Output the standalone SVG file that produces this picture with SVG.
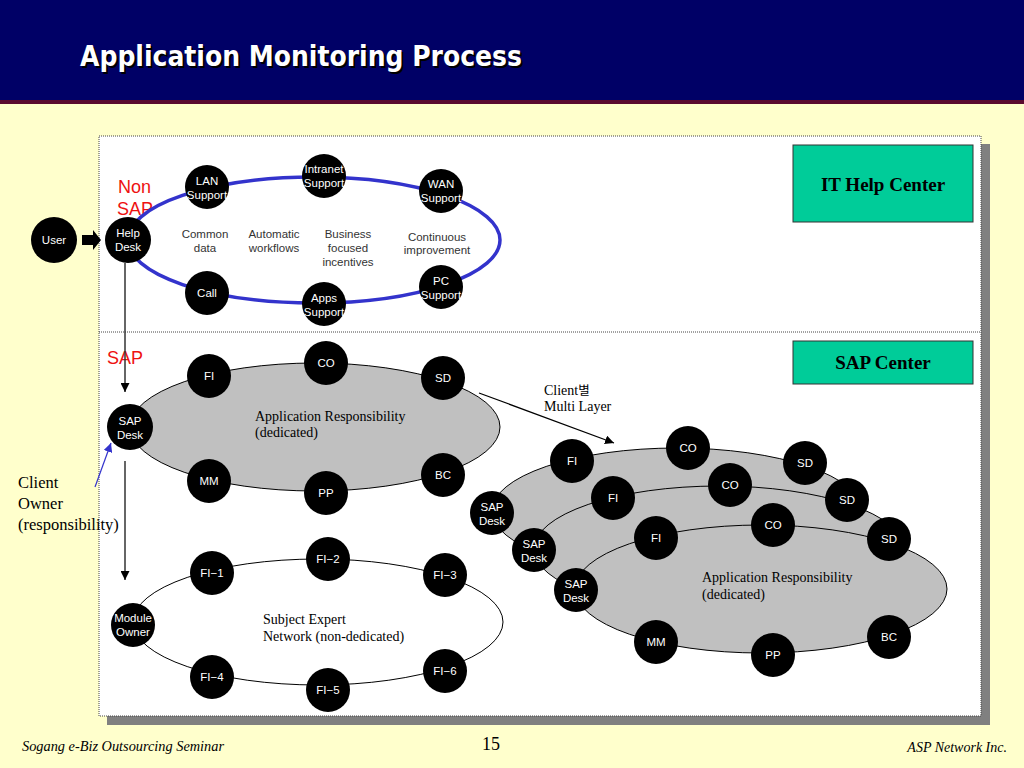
<svg xmlns="http://www.w3.org/2000/svg" width="1024" height="768" viewBox="0 0 1024 768">
<defs>
<style>
.n{fill:#000}
.nt{font-family:"Liberation Sans",Arial,sans-serif;font-size:11.5px;fill:#fff;text-anchor:middle}
.ct{font-family:"Liberation Sans",Arial,sans-serif;font-size:11.5px;fill:#333;text-anchor:middle}
.sr{font-family:"Liberation Serif","Times New Roman",serif;font-size:14px;fill:#000}
.big{font-size:16.5px}
.red{font-family:"Liberation Sans",Arial,sans-serif;font-size:18px;fill:#ee1111}
.box{fill:#00CC99;stroke:#333;stroke-width:1}
.bt{font-family:"Liberation Serif","Times New Roman",serif;font-size:19px;font-weight:bold;fill:#000;text-anchor:middle}
.gray{fill:#C0C0C0;stroke:#000;stroke-width:1}
.ft{font-family:"Liberation Serif","Times New Roman",serif;font-style:italic;font-size:14px;fill:#000}
.ttl{font-family:"DejaVu Sans",Verdana,sans-serif;font-weight:bold;font-size:28px}
</style>
<marker id="ah" viewBox="0 0 10 10" refX="10" refY="5" markerWidth="9" markerHeight="9" markerUnits="userSpaceOnUse" orient="auto"><path d="M0,0 L10,5 L0,10 z" fill="#000"/></marker>
<marker id="ahb" viewBox="0 0 10 10" refX="10" refY="5" markerWidth="9" markerHeight="9" markerUnits="userSpaceOnUse" orient="auto"><path d="M0,0 L10,5 L0,10 z" fill="#3333CC"/></marker>
</defs>

<!-- background -->
<rect x="0" y="0" width="1024" height="768" fill="#FFFFCC"/>
<rect x="0" y="0" width="1024" height="100" fill="#000066"/>
<rect x="0" y="100" width="1024" height="4" fill="#5A0A2E"/>
<text class="ttl" x="82" y="68" fill="#000" textLength="442" lengthAdjust="spacingAndGlyphs">Application Monitoring Process</text>
<text class="ttl" x="80" y="66" fill="#fff" textLength="442" lengthAdjust="spacingAndGlyphs">Application Monitoring Process</text>

<!-- panel -->
<rect x="107" y="144" width="883" height="581" fill="#808080"/>
<rect x="99" y="136" width="882" height="580" fill="#fff" stroke="#444" stroke-width="1" stroke-dasharray="1,1"/>
<line x1="99" y1="332" x2="981" y2="332" stroke="#444" stroke-width="1" stroke-dasharray="1,1"/>

<g id="it-help-center"><rect class="box" x="793" y="145" width="180" height="77"/><text class="bt" x="883" y="191">IT Help Center</text></g>
<g id="sap-center"><rect class="box" x="793" y="341" width="180" height="43"/><text class="bt" x="883" y="369">SAP Center</text></g>

<!-- section labels -->
<text class="red" x="118" y="193">Non</text>
<text class="red" x="117" y="215">SAP</text>
<text class="red" x="107" y="364">SAP</text>

<!-- ellipses -->
<g id="rings">
<ellipse cx="314" cy="240" rx="186" ry="63" fill="none" stroke="#3333CC" stroke-width="3.5"/>
<ellipse class="gray" cx="315" cy="427" rx="185" ry="64"/>
<ellipse cx="318" cy="622" rx="185" ry="63" fill="#fff" stroke="#000" stroke-width="1"/>
</g>

<!-- connectors -->
<g id="connectors">
<path d="M82,235 H93 V230 L101,240 L93,250 V245 H82 z" fill="#000"/>
<line x1="125" y1="263" x2="125" y2="392" stroke="#333" stroke-width="1.5" marker-end="url(#ah)"/>
<line x1="125" y1="461" x2="125" y2="580" stroke="#333" stroke-width="1.5" marker-end="url(#ah)"/>
<line x1="95" y1="487" x2="111" y2="443" stroke="#3333CC" stroke-width="1.2" marker-end="url(#ahb)"/>
<line x1="479" y1="393" x2="614" y2="443" stroke="#000" stroke-width="1.2" marker-end="url(#ah)"/>
</g>

<!-- centre labels upper ring -->
<text class="ct" x="205" y="238">Common</text><text class="ct" x="205" y="252">data</text>
<text class="ct" x="274" y="238">Automatic</text><text class="ct" x="274" y="252">workflows</text>
<text class="ct" x="348" y="238">Business</text><text class="ct" x="348" y="252">focused</text><text class="ct" x="348" y="266">incentives</text>
<text class="ct" x="437" y="241">Continuous</text><text class="ct" x="437" y="254">improvement</text>

<!-- upper nodes -->
<g id="user"><circle class="n" cx="54" cy="240" r="23"/><text class="nt" x="54" y="244">User</text></g>
<g id="help-desk"><circle class="n" cx="128" cy="240" r="23"/><text class="nt" x="128" y="237">Help</text><text class="nt" x="128" y="251">Desk</text></g>
<g id="lan"><circle class="n" cx="207" cy="187" r="22"/><text class="nt" x="207" y="185">LAN</text><text class="nt" x="207" y="199">Support</text></g>
<g id="intranet"><circle class="n" cx="324" cy="176" r="22"/><text class="nt" x="324" y="173">Intranet</text><text class="nt" x="324" y="187">Support</text></g>
<g id="wan"><circle class="n" cx="441" cy="191" r="22"/><text class="nt" x="441" y="188">WAN</text><text class="nt" x="441" y="202">Support</text></g>
<g id="call"><circle class="n" cx="207" cy="293" r="22"/><text class="nt" x="207" y="297">Call</text></g>
<g id="apps"><circle class="n" cx="324" cy="304" r="22"/><text class="nt" x="324" y="302">Apps</text><text class="nt" x="324" y="316">Support</text></g>
<g id="pc"><circle class="n" cx="441" cy="287" r="22"/><text class="nt" x="441" y="285">PC</text><text class="nt" x="441" y="299">Support</text></g>

<!-- SAP ring -->
<text class="sr" x="255" y="421">Application Responsibility</text>
<text class="sr" x="255" y="437">(dedicated)</text>
<g id="sap-desk"><circle class="n" cx="130" cy="427" r="23"/><text class="nt" x="130" y="425">SAP</text><text class="nt" x="130" y="439">Desk</text></g>
<g id="fi"><circle class="n" cx="209" cy="376" r="22"/><text class="nt" x="209" y="380">FI</text></g>
<g id="co"><circle class="n" cx="326" cy="363" r="22"/><text class="nt" x="326" y="367">CO</text></g>
<g id="sd"><circle class="n" cx="443" cy="378" r="22"/><text class="nt" x="443" y="382">SD</text></g>
<g id="mm"><circle class="n" cx="209" cy="481" r="22"/><text class="nt" x="209" y="485">MM</text></g>
<g id="pp"><circle class="n" cx="326" cy="493" r="22"/><text class="nt" x="326" y="497">PP</text></g>
<g id="bc"><circle class="n" cx="443" cy="475" r="22"/><text class="nt" x="443" y="479">BC</text></g>

<text class="sr big" x="18" y="488">Client</text>
<text class="sr big" x="18" y="509">Owner</text>
<text class="sr big" x="18" y="530">(responsibility)</text>

<!-- subject expert ring -->
<text class="sr" x="263" y="624">Subject Expert</text>
<text class="sr" x="263" y="641">Network (non-dedicated)</text>
<g id="module-owner"><circle class="n" cx="133" cy="625" r="22"/><text class="nt" x="133" y="622">Module</text><text class="nt" x="133" y="636">Owner</text></g>
<g id="fi-1"><circle class="n" cx="212" cy="573" r="22"/><text class="nt" x="212" y="577">FI−1</text></g>
<g id="fi-2"><circle class="n" cx="328" cy="559" r="22"/><text class="nt" x="328" y="563">FI−2</text></g>
<g id="fi-3"><circle class="n" cx="445" cy="575" r="22"/><text class="nt" x="445" y="579">FI−3</text></g>
<g id="fi-4"><circle class="n" cx="212" cy="677" r="22"/><text class="nt" x="212" y="681">FI−4</text></g>
<g id="fi-5"><circle class="n" cx="328" cy="690" r="22"/><text class="nt" x="328" y="694">FI−5</text></g>
<g id="fi-6"><circle class="n" cx="445" cy="671" r="22"/><text class="nt" x="445" y="675">FI−6</text></g>

<!-- multi layer label -->
<text class="sr" x="544" y="395">Client<tspan font-family="'Noto Sans CJK KR',sans-serif" font-size="12.5">별</tspan></text>
<text class="sr" x="544" y="411">Multi Layer</text>

<!-- multi-layer cluster -->
<g id="layer1">
<ellipse class="gray" cx="677" cy="511" rx="185" ry="63"/>
<g id="l1-sap-desk"><circle class="n" cx="492" cy="513" r="22"/><text class="nt" x="492" y="511">SAP</text><text class="nt" x="492" y="525">Desk</text></g>
<g id="l1-fi"><circle class="n" cx="572" cy="461" r="22"/><text class="nt" x="572" y="465">FI</text></g>
<g id="l1-co"><circle class="n" cx="688" cy="448" r="22"/><text class="nt" x="688" y="452">CO</text></g>
<g id="l1-sd"><circle class="n" cx="805" cy="463" r="22"/><text class="nt" x="805" y="467">SD</text></g>
</g>
<g id="layer2">
<ellipse class="gray" cx="719" cy="549" rx="185" ry="63"/>
<g id="l2-sap-desk"><circle class="n" cx="534" cy="550" r="22"/><text class="nt" x="534" y="548">SAP</text><text class="nt" x="534" y="562">Desk</text></g>
<g id="l2-fi"><circle class="n" cx="613" cy="498" r="22"/><text class="nt" x="613" y="502">FI</text></g>
<g id="l2-co"><circle class="n" cx="730" cy="485" r="22"/><text class="nt" x="730" y="489">CO</text></g>
<g id="l2-sd"><circle class="n" cx="847" cy="500" r="22"/><text class="nt" x="847" y="504">SD</text></g>
</g>
<g id="layer3">
<ellipse class="gray" cx="761" cy="589" rx="186" ry="64"/>
<text class="sr" x="702" y="582">Application Responsibility</text>
<text class="sr" x="702" y="599">(dedicated)</text>
<g id="l3-sap-desk"><circle class="n" cx="576" cy="590" r="22"/><text class="nt" x="576" y="588">SAP</text><text class="nt" x="576" y="602">Desk</text></g>
<g id="l3-fi"><circle class="n" cx="656" cy="538" r="22"/><text class="nt" x="656" y="542">FI</text></g>
<g id="l3-co"><circle class="n" cx="773" cy="525" r="22"/><text class="nt" x="773" y="529">CO</text></g>
<g id="l3-sd"><circle class="n" cx="889" cy="539" r="22"/><text class="nt" x="889" y="543">SD</text></g>
<g id="l3-mm"><circle class="n" cx="656" cy="642" r="22"/><text class="nt" x="656" y="646">MM</text></g>
<g id="l3-pp"><circle class="n" cx="773" cy="655" r="22"/><text class="nt" x="773" y="659">PP</text></g>
<g id="l3-bc"><circle class="n" cx="889" cy="637" r="22"/><text class="nt" x="889" y="641">BC</text></g>
</g>

<!-- footer -->
<text class="ft" x="22" y="751" textLength="202" lengthAdjust="spacingAndGlyphs">Sogang e-Biz Outsourcing Seminar</text>
<text x="491" y="750" font-family="'Liberation Serif','Times New Roman',serif" font-size="18" text-anchor="middle" fill="#000">15</text>
<text class="ft" x="1007" y="752" text-anchor="end">ASP Network Inc.</text>
</svg>
